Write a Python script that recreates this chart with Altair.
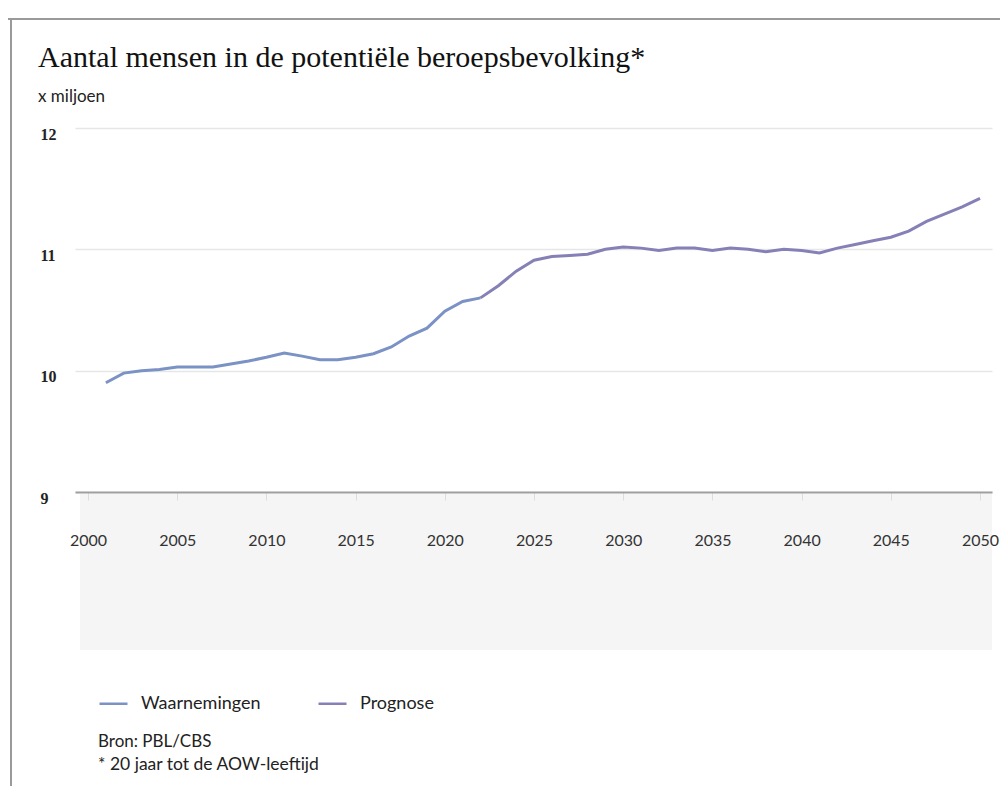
import altair as alt
import pandas as pd

# ---- data ----
obs_years = list(range(2001, 2023))
obs_values = [9.90, 9.98, 10.00, 10.01, 10.03, 10.03, 10.03, 10.055, 10.08, 10.11,
              10.145, 10.12, 10.09, 10.09, 10.11, 10.14, 10.195, 10.285, 10.35, 10.49,
              10.57, 10.60]
prog_years = list(range(2022, 2051))
prog_values = [10.60, 10.70, 10.82, 10.91, 10.94, 10.95, 10.96, 11.00, 11.02, 11.01,
               10.99, 11.01, 11.01, 10.99, 11.01, 11.00, 10.98, 11.00, 10.99, 10.97,
               11.01, 11.04, 11.07, 11.10, 11.15, 11.23, 11.29, 11.35, 11.42]
series_names = ["Waarnemingen", "Prognose"]
series_colors = ["#7b92c4", "#8580b6"]
x_ticks = list(range(2000, 2051, 5))
y_ticks = [9, 10, 11, 12]

title_text = "Aantal mensen in de potentiële beroepsbevolking*"
unit_text = "x miljoen"
source_text = "Bron: PBL/CBS"
note_text = "* 20 jaar tot de AOW-leeftijd"

df = pd.concat([
    pd.DataFrame({"jaar": obs_years, "waarde": obs_values, "reeks": series_names[0]}),
    pd.DataFrame({"jaar": prog_years, "waarde": prog_values, "reeks": series_names[1]}),
])

W, H = 917, 364
SANS = "Lato"

x_enc = alt.X("jaar:Q",
              scale=alt.Scale(domain=[1999.27, 2050.67], nice=False, zero=False),
              axis=alt.Axis(values=x_ticks, format="d", title=None, grid=False,
                            domainColor="#a0a0a0", domainWidth=2, zindex=2,
                            tickColor="#dddddd", tickSize=8, labelPadding=32,
                            labelFont=SANS, labelFontSize=16, labelColor="#333333"))
y_enc = alt.Y("waarde:Q",
              scale=alt.Scale(domain=[9, 12], nice=False, zero=False),
              axis=alt.Axis(values=y_ticks, format="d", title=None, grid=True,
                            gridColor="#e6e6e6", gridWidth=1.5, domain=False, ticks=False,
                            labelAlign="left", labelPadding=35, labelOffset=6,
                            labelFont="Liberation Serif", labelFontWeight="bold",
                            labelFontSize=16, labelColor="#222222"))

band = alt.Chart(pd.DataFrame({"a": [0]})).mark_rect(color="#f5f5f5").encode(
    x=alt.value(5), x2=alt.value(W), y=alt.value(H + 2), y2=alt.value(H + 158))

lines = alt.Chart(df).mark_line(strokeWidth=3, interpolate="linear").encode(
    x=x_enc, y=y_enc,
    color=alt.Color("reeks:N",
                    scale=alt.Scale(domain=series_names, range=series_colors),
                    sort=series_names,
                    legend=alt.Legend(title=None, orient="none", direction="horizontal",
                                      legendX=23, legendY=560,
                                      symbolType="stroke", symbolSize=784,
                                      symbolStrokeWidth=2.5, labelOffset=12,
                                      columnPadding=52,
                                      labelFont=SANS, labelFontSize=18,
                                      labelColor="#222222")),
    detail="reeks:N",
)

def txt(s, x, y, font, size, weight="normal", color="#222222"):
    return alt.Chart(pd.DataFrame({"t": [s]})).mark_text(
        align="left", baseline="alphabetic", font=font, fontSize=size,
        fontWeight=weight, color=color).encode(
        text="t:N", x=alt.value(x), y=alt.value(y))

title = txt(title_text, -37, -61, "Liberation Serif", 30, color="#111111")
unit = txt(unit_text, -37, -26, SANS, 17)
src = txt(source_text, 23, 619, SANS, 17)
note = txt(note_text, 23, 642, SANS, 17.5)

top_border = alt.Chart(pd.DataFrame({"a": [0]})).mark_rule(color="#9a9a9a", strokeWidth=2).encode(
    x=alt.value(-70), x2=alt.value(W + 20), y=alt.value(-109))
left_border = alt.Chart(pd.DataFrame({"a": [0]})).mark_rule(color="#9a9a9a", strokeWidth=2).encode(
    x=alt.value(-64), y=alt.value(-109), y2=alt.value(680))

chart = alt.layer(band, lines, title, unit, src, note, top_border, left_border).properties(
    width=W, height=H, background="white",
    autosize=alt.AutoSizeParams(type="none"),
    padding={"left": 67, "top": 120, "right": 8, "bottom": 294},
).configure_view(stroke=None)

chart.save("out.html", embed_options={"renderer": "svg", "actions": False})
